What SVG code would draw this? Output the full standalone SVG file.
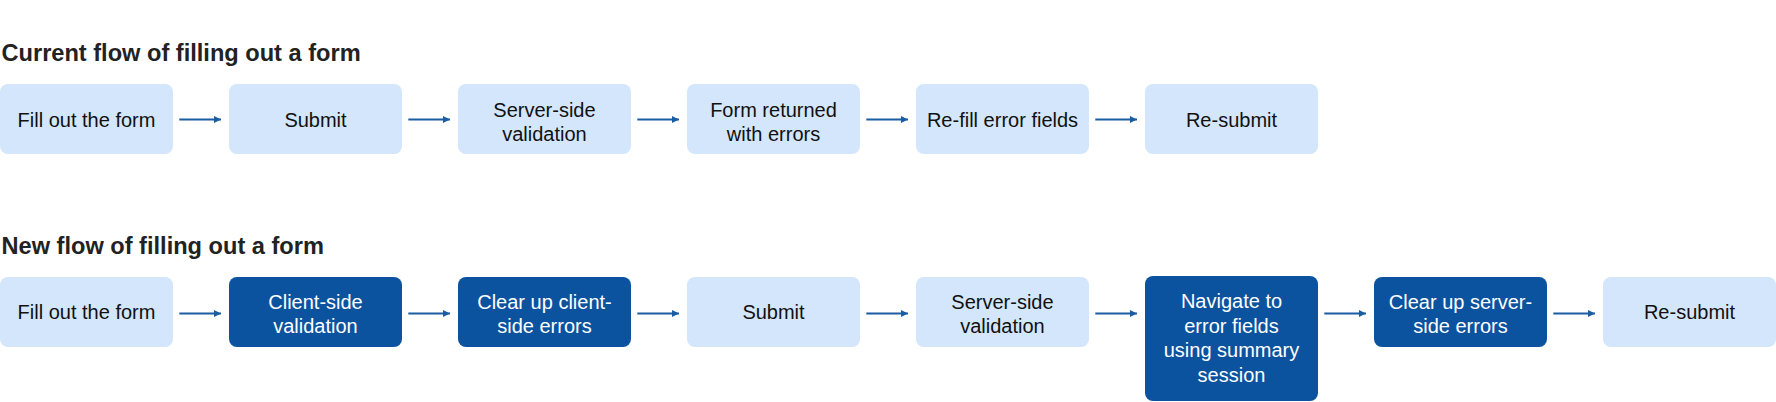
<svg xmlns="http://www.w3.org/2000/svg" width="1776" height="402" viewBox="0 0 1776 402">
<defs>
<style>
.title{font-family:"Liberation Sans",Arial,sans-serif;font-weight:bold;font-size:23.6px;fill:#222222}
.light rect{fill:#d3e6fb}
.dark rect{fill:#0b539f}
.light text{fill:#111111}
.dark text{fill:#ffffff}
text.lbl{font-family:"Liberation Sans",Arial,sans-serif;font-size:20px;text-anchor:middle}
.conn line{stroke:#1b5da3;stroke-width:2;fill:none}
</style>
<marker id="ah" markerWidth="8" markerHeight="8" refX="7" refY="4" orient="auto" markerUnits="userSpaceOnUse">
<path d="M0,0.5 L7,4 L0,7.5 Z" fill="#1b5da3"/>
</marker>
</defs>
<rect width="1776" height="402" fill="#ffffff"/>
<text class="title" x="1.5" y="60.5">Current flow of filling out a form</text>
<text class="title" x="1.5" y="253.5">New flow of filling out a form</text>

<g id="c1" class="light"><rect x="0" y="84" width="173" height="70" rx="8"/><text class="lbl" x="86.5" y="126.5">Fill out the form</text></g>
<g id="c2" class="light"><rect x="229" y="84" width="173" height="70" rx="8"/><text class="lbl" x="315.5" y="126.5">Submit</text></g>
<g id="c3" class="light"><rect x="458" y="84" width="173" height="70" rx="8"/><text class="lbl" x="544.5" y="116.5">Server-side</text><text class="lbl" x="544.5" y="141">validation</text></g>
<g id="c4" class="light"><rect x="687" y="84" width="173" height="70" rx="8"/><text class="lbl" x="773.5" y="116.5">Form returned</text><text class="lbl" x="773.5" y="141">with errors</text></g>
<g id="c5" class="light"><rect x="916" y="84" width="173" height="70" rx="8"/><text class="lbl" x="1002.5" y="126.5">Re-fill error fields</text></g>
<g id="c6" class="light"><rect x="1145" y="84" width="173" height="70" rx="8"/><text class="lbl" x="1231.5" y="126.5">Re-submit</text></g>

<g id="n1" class="light"><rect x="0" y="277" width="173" height="70" rx="8"/><text class="lbl" x="86.5" y="319">Fill out the form</text></g>
<g id="n2" class="dark"><rect x="229" y="277" width="173" height="70" rx="8"/><text class="lbl" x="315.5" y="308.5">Client-side</text><text class="lbl" x="315.5" y="333">validation</text></g>
<g id="n3" class="dark"><rect x="458" y="277" width="173" height="70" rx="8"/><text class="lbl" x="544.5" y="308.5">Clear up client-</text><text class="lbl" x="544.5" y="333">side errors</text></g>
<g id="n4" class="light"><rect x="687" y="277" width="173" height="70" rx="8"/><text class="lbl" x="773.5" y="319">Submit</text></g>
<g id="n5" class="light"><rect x="916" y="277" width="173" height="70" rx="8"/><text class="lbl" x="1002.5" y="308.5">Server-side</text><text class="lbl" x="1002.5" y="333">validation</text></g>
<g id="n6" class="dark"><rect x="1145" y="276" width="173" height="125" rx="8"/><text class="lbl" x="1231.5" y="308.3">Navigate to</text><text class="lbl" x="1231.5" y="333">error fields</text><text class="lbl" x="1231.5" y="357.3">using summary</text><text class="lbl" x="1231.5" y="381.6">session</text></g>
<g id="n7" class="dark"><rect x="1374" y="277" width="173" height="70" rx="8"/><text class="lbl" x="1460.5" y="308.5">Clear up server-</text><text class="lbl" x="1460.5" y="333">side errors</text></g>
<g id="n8" class="light"><rect x="1603" y="277" width="173" height="70" rx="8"/><text class="lbl" x="1689.5" y="319">Re-submit</text></g>

<g id="connectors" class="conn">
<line x1="179.3" y1="119.5" x2="221" y2="119.5" marker-end="url(#ah)"/>
<line x1="408.3" y1="119.5" x2="450" y2="119.5" marker-end="url(#ah)"/>
<line x1="637.3" y1="119.5" x2="679" y2="119.5" marker-end="url(#ah)"/>
<line x1="866.3" y1="119.5" x2="908" y2="119.5" marker-end="url(#ah)"/>
<line x1="1095.3" y1="119.5" x2="1137" y2="119.5" marker-end="url(#ah)"/>
<line x1="179.3" y1="313.5" x2="221" y2="313.5" marker-end="url(#ah)"/>
<line x1="408.3" y1="313.5" x2="450" y2="313.5" marker-end="url(#ah)"/>
<line x1="637.3" y1="313.5" x2="679" y2="313.5" marker-end="url(#ah)"/>
<line x1="866.3" y1="313.5" x2="908" y2="313.5" marker-end="url(#ah)"/>
<line x1="1095.3" y1="313.5" x2="1137" y2="313.5" marker-end="url(#ah)"/>
<line x1="1324.3" y1="313.5" x2="1366" y2="313.5" marker-end="url(#ah)"/>
<line x1="1553.3" y1="313.5" x2="1595" y2="313.5" marker-end="url(#ah)"/>
</g>
</svg>
